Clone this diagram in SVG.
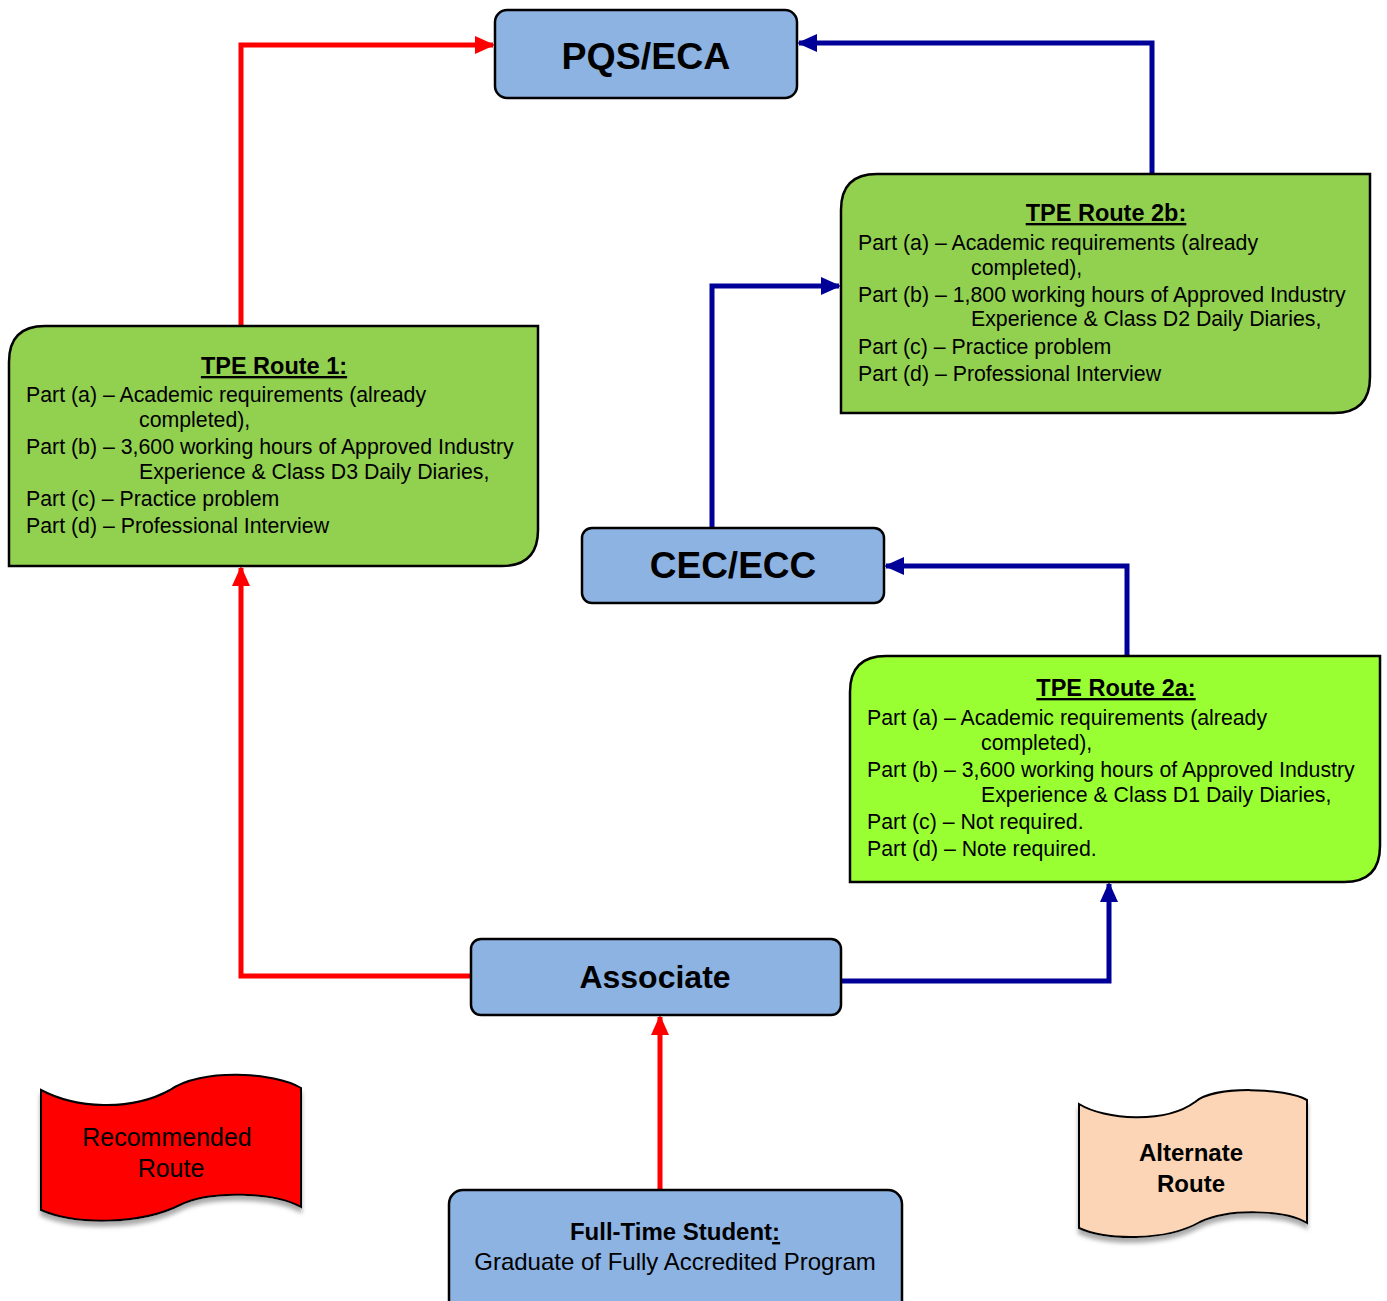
<svg xmlns="http://www.w3.org/2000/svg" width="1387" height="1301" viewBox="0 0 1387 1301">
<defs>
<style>
.box{fill:#8db3e2;stroke:#000;stroke-width:2.5}
.tpe{stroke:#000;stroke-width:2.5}
.t{font-family:"Liberation Sans",Arial,sans-serif;fill:#000}
.big{font-size:37.5px;font-weight:bold;text-anchor:middle}
.body{font-size:21.3px}
.ttl{font-size:23.5px;font-weight:bold;text-anchor:middle;text-decoration:underline}
.red{fill:none;stroke:#ff0000;stroke-width:5}
.blue{fill:none;stroke:#000099;stroke-width:5}
</style>
<marker id="ar" markerUnits="userSpaceOnUse" markerWidth="20" markerHeight="18" refX="18" refY="9" orient="auto"><path d="M0,0 L20,9 L0,18 Z" fill="#ff0000"/></marker>
<marker id="ab" markerUnits="userSpaceOnUse" markerWidth="20" markerHeight="18" refX="18" refY="9" orient="auto"><path d="M0,0 L20,9 L0,18 Z" fill="#000099"/></marker>
<filter id="sh" x="-10%" y="-10%" width="120%" height="130%"><feDropShadow dx="0" dy="5" stdDeviation="2" flood-color="#888" flood-opacity="0.7"/></filter>
</defs>

<g id="connectors">
<polyline class="red" points="241,326 241,45 493,45" marker-end="url(#ar)"/>
<polyline class="red" points="471,976 241,976 241,568" marker-end="url(#ar)"/>
<polyline class="red" points="660,1190 660,1017" marker-end="url(#ar)"/>
<polyline class="blue" points="1152,176 1152,43 799,43" marker-end="url(#ab)"/>
<polyline class="blue" points="712,528 712,286 839,286" marker-end="url(#ab)"/>
<polyline class="blue" points="1127,658 1127,566 886,566" marker-end="url(#ab)"/>
<polyline class="blue" points="841,981 1109,981 1109,884" marker-end="url(#ab)"/>
</g>

<g id="pqs">
<rect class="box" x="495" y="10" width="302" height="88" rx="12"/>
<text class="t big" x="646" y="69">PQS/ECA</text>
</g>

<g id="cec">
<rect class="box" x="582" y="528" width="302" height="75" rx="10"/>
<text class="t big" x="733" y="578" style="font-size:37px">CEC/ECC</text>
</g>

<g id="associate">
<rect class="box" x="471" y="939" width="370" height="76" rx="10"/>
<text class="t big" x="655" y="988" style="font-size:32px">Associate</text>
</g>

<g id="student">
<rect class="box" x="449" y="1190" width="453" height="125" rx="14"/>
<text class="t" x="675" y="1240" style="font-size:24px;text-anchor:middle"><tspan font-weight="bold">Full-Time Student</tspan><tspan font-weight="bold" text-decoration="underline">:</tspan></text>
<text class="t" x="675" y="1270" style="font-size:24px;text-anchor:middle">Graduate of Fully Accredited Program</text>
</g>

<g id="tpe1">
<path class="tpe" fill="#92d050" d="M9,566 L9,362 Q9,326 45,326 L538,326 L538,530 Q538,566 502,566 Z"/>
<text class="t ttl" x="274" y="374">TPE Route 1:</text>
<text class="t body" x="26" y="402">Part (a) – Academic requirements (already</text>
<text class="t body" x="139" y="427">completed),</text>
<text class="t body" x="26" y="454">Part (b) – 3,600 working hours of Approved Industry</text>
<text class="t body" x="139" y="479">Experience &amp; Class D3 Daily Diaries,</text>
<text class="t body" x="26" y="506">Part (c) – Practice problem</text>
<text class="t body" x="26" y="533">Part (d) – Professional Interview</text>
</g>

<g id="tpe2b">
<path class="tpe" fill="#92d050" d="M841,413 L841,210 Q841,174 877,174 L1370,174 L1370,377 Q1370,413 1334,413 Z"/>
<text class="t ttl" x="1106" y="221">TPE Route 2b:</text>
<text class="t body" x="858" y="250">Part (a) – Academic requirements (already</text>
<text class="t body" x="971" y="275">completed),</text>
<text class="t body" x="858" y="302">Part (b) – 1,800 working hours of Approved Industry</text>
<text class="t body" x="971" y="326">Experience &amp; Class D2 Daily Diaries,</text>
<text class="t body" x="858" y="354">Part (c) – Practice problem</text>
<text class="t body" x="858" y="381">Part (d) – Professional Interview</text>
</g>

<g id="tpe2a">
<path class="tpe" fill="#99ff33" d="M850,882 L850,692 Q850,656 886,656 L1380,656 L1380,846 Q1380,882 1344,882 Z"/>
<text class="t ttl" x="1116" y="696">TPE Route 2a:</text>
<text class="t body" x="867" y="725">Part (a) – Academic requirements (already</text>
<text class="t body" x="981" y="750">completed),</text>
<text class="t body" x="867" y="777">Part (b) – 3,600 working hours of Approved Industry</text>
<text class="t body" x="981" y="802">Experience &amp; Class D1 Daily Diaries,</text>
<text class="t body" x="867" y="829">Part (c) – Not required.</text>
<text class="t body" x="867" y="856">Part (d) – Note required.</text>
</g>

<g id="recommended">
<path filter="url(#sh)" fill="#ff0000" stroke="#000" stroke-width="2" d="M41,1090 C75,1108 130,1112 170,1090 C200,1068 275,1072 301,1088 L301,1207 C275,1192 210,1190 180,1205 C140,1225 75,1225 41,1210 Z"/>
<text class="t" x="167" y="1146" style="font-size:25px;text-anchor:middle">Recommended</text>
<text class="t" x="171" y="1177" style="font-size:25px;text-anchor:middle">Route</text>
</g>

<g id="alternate">
<path filter="url(#sh)" fill="#fbd5b5" stroke="#000" stroke-width="2" d="M1079,1104 C1105,1120 1165,1124 1195,1102 C1215,1085 1285,1088 1307,1100 L1307,1223 C1285,1210 1230,1208 1200,1222 C1165,1242 1105,1240 1079,1228 Z"/>
<text class="t" x="1191" y="1161" style="font-size:24px;font-weight:bold;text-anchor:middle">Alternate</text>
<text class="t" x="1191" y="1192" style="font-size:24px;font-weight:bold;text-anchor:middle">Route</text>
</g>
</svg>
